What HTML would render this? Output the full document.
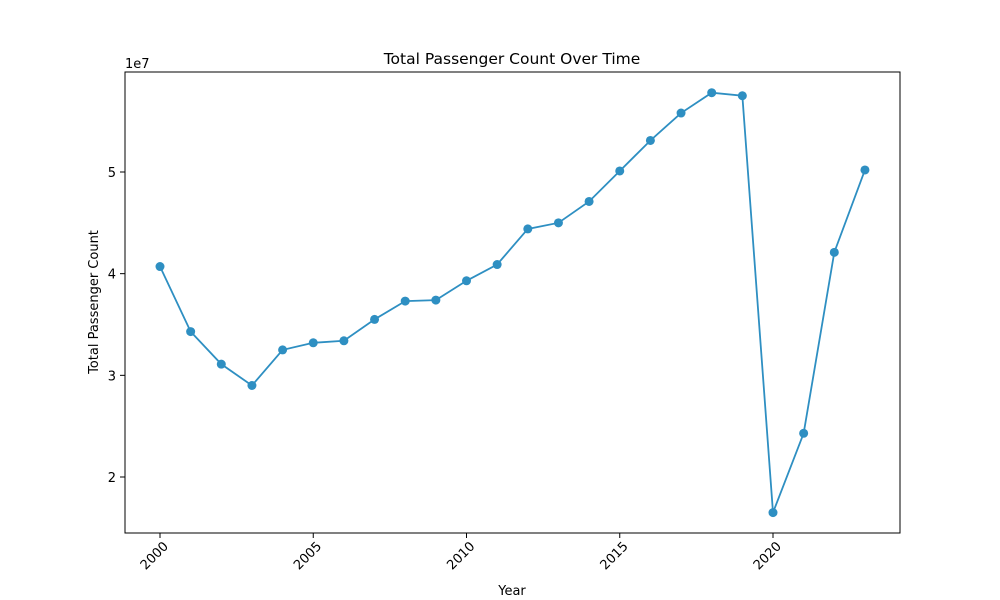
<!DOCTYPE html>
<html><head><meta charset="utf-8"><style>
html,body{margin:0;padding:0;background:#fff;}
svg{display:block;font-family:"DejaVu Sans","Liberation Sans",sans-serif;}
</style></head><body>
<svg id="chart" width="1000" height="600">
<rect width="1000" height="600" fill="#fff"/>
<text x="512" y="64" text-anchor="middle" font-size="15.5">Total Passenger Count Over Time</text>
<text x="512" y="595" text-anchor="middle" font-size="13">Year</text>
<text transform="translate(98,302) rotate(-90)" text-anchor="middle" font-size="13">Total Passenger Count</text>
<text x="125" y="68" font-size="13">1e7</text>
<g id="ticks"></g>
<g id="series"></g>
<rect x="125" y="72" width="775" height="461" fill="none" stroke="#000" stroke-width="1"/>
</svg>
<script>
const years=[2000,2001,2002,2003,2004,2005,2006,2007,2008,2009,2010,2011,2012,2013,2014,2015,2016,2017,2018,2019,2020,2021,2022,2023];
const passengers=[4.07e7,3.43e7,3.11e7,2.90e7,3.25e7,3.32e7,3.34e7,3.55e7,3.73e7,3.74e7,3.93e7,4.09e7,4.44e7,4.50e7,4.71e7,5.01e7,5.31e7,5.58e7,5.78e7,5.75e7,1.65e7,2.43e7,4.21e7,5.02e7];
const xTicks=[2000,2005,2010,2015,2020];
const yTicks=[2e7,3e7,4e7,5e7];
const yTickLabels=["2","3","4","5"];
const NS="http://www.w3.org/2000/svg";
function xs(v){return 160+(v-2000)*(773-160)/20;}
function ys(v){return 477-(v-2e7)*(477-172)/3e7;}
function mk(t,a,p){const e=document.createElementNS(NS,t);for(const k in a)e.setAttribute(k,a[k]);p.appendChild(e);return e;}
const tg=document.getElementById('ticks'),sg=document.getElementById('series');
xTicks.forEach(v=>{const x=xs(v);
const l=mk('line',{x1:x,x2:x,y1:533,y2:538,stroke:'#000'},tg);


const t=mk('text',{x:0,y:0,'font-size':13,'text-anchor':'end',transform:`translate(${x+9},${547}) rotate(-45)`},tg);


t.textContent=v;});
yTicks.forEach((v,i)=>{const y=ys(v);
const l=mk('line',{x1:120,x2:125,y1:y,y2:y,stroke:'#000'},tg);


const t=mk('text',{x:116,y:y+5,'font-size':13,'text-anchor':'end'},tg);


t.textContent=yTickLabels[i];});
const pts=years.map((y,i)=>xs(y)+','+ys(passengers[i])).join(' ');
const pl=mk('polyline',{points:pts,fill:'none',stroke:'#2e8fc2','stroke-width':1.8},sg);


years.forEach((y,i)=>{const c=mk('circle',{cx:xs(y),cy:ys(passengers[i]),r:4.5,fill:'#2e8fc2'},sg);

});
</script>
</body></html>
